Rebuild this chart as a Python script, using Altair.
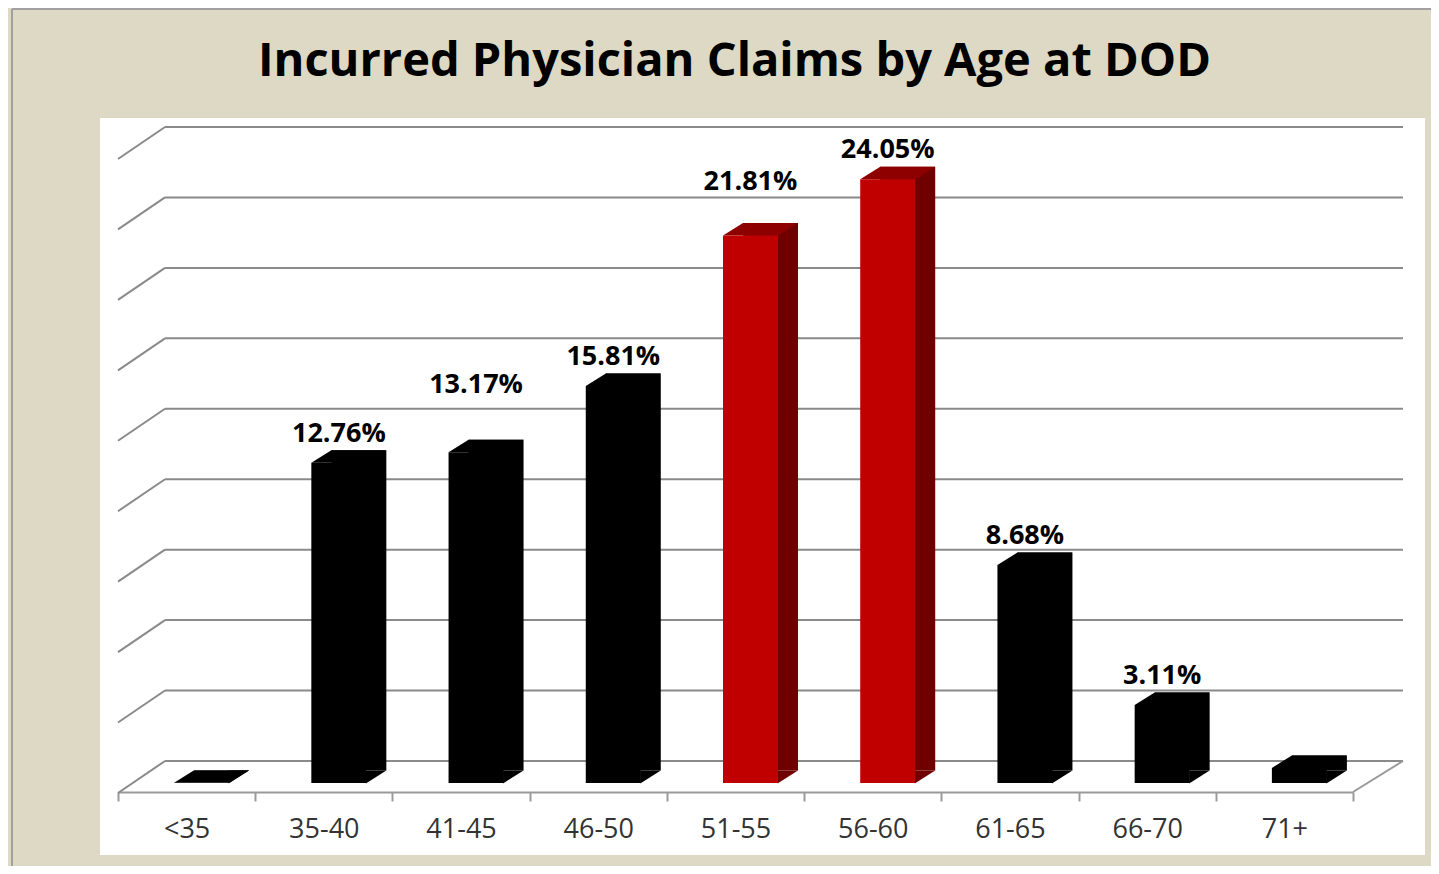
import altair as alt
import pandas as pd

# ---- data ----
categories = ["<35", "35-40", "41-45", "46-50", "51-55", "56-60", "61-65", "66-70", "71+"]
values = [0.01, 12.76, 13.17, 15.81, 21.81, 24.05, 8.68, 3.11, 0.6]
labels = ["", "12.76%", "13.17%", "15.81%", "21.81%", "24.05%", "8.68%", "3.11%", ""]
groups = ["normal", "normal", "normal", "normal", "peak", "peak", "normal", "normal", "normal"]
wall_ticks = [0, 3, 6, 9, 12, 15, 18, 21, 24, 27]

df = pd.DataFrame({"age": categories, "share": values, "label": labels,
                   "group": groups, "base": [0] * len(categories)})
grid_df = pd.DataFrame({"g": wall_ticks})
one_df = pd.DataFrame({"k": [0]})

# ---- styling ----
W, H = 1325, 737
BAR_W = 55
SHIFT = 15
DX, DY = 20, 12.5
GRID = "#8a8a8a"
FONT = "Open Sans"

front_colors = ["#000000", "#C00000"]
top_colors = ["#000000", "#8E0000"]
side_colors = ["#000000", "#700000"]

yscale = alt.Scale(domain=[-2.87, 26.49], nice=False, zero=False)
wallscale = alt.Scale(domain=[-4.004, 27.383], nice=False, zero=False)

xenc = alt.X("age:N", sort=categories,
             scale=alt.Scale(range=[18, 1253], paddingInner=0, paddingOuter=0),
             axis=alt.Axis(title=None, labelAngle=0, tickBand="extent", offset=-63,
                           domainColor="#9a9a9a", domainWidth=2, tickColor="#9a9a9a",
                           tickWidth=2, tickSize=9, labelFont=FONT, labelFontSize=27,
                           labelColor="#333333", labelBaseline="alphabetic",
                           labelPadding=36, grid=False))
yenc = alt.Y("share:Q", scale=yscale, axis=None)


def col(rng):
    return alt.Color("group:N", scale=alt.Scale(domain=["normal", "peak"], range=rng), legend=None)


# ---- back wall / floor ----
wall_y = alt.Y("g:Q", scale=wallscale, axis=None)
hgrid = alt.Chart(grid_df).mark_rule(color=GRID, strokeWidth=2).encode(
    x=alt.value(65), x2=alt.value(1303), y=wall_y)
diag = alt.Chart(grid_df).mark_rule(color=GRID, strokeWidth=2, yOffset=32).encode(
    x=alt.value(18), x2=alt.value(65), y=wall_y, y2=alt.Y2("g:Q"))
floor_right = alt.Chart(grid_df).transform_filter("datum.g == 0").mark_rule(
    color="#9a9a9a", strokeWidth=2, yOffset=31).encode(
    x=alt.value(1253), x2=alt.value(1303), y=wall_y, y2=alt.Y2("g:Q"))
wall = alt.layer(hgrid, diag, floor_right)

# ---- 3D bars ----
shadow = alt.Chart(df).mark_bar(width=BAR_W, xOffset=SHIFT + DX, yOffset=-DY, y2Offset=-DY).encode(
    x=xenc, y=yenc, color=col(side_colors))
top = alt.Chart(df).mark_point(
    filled=True, opacity=1, size=4, xOffset=SHIFT, strokeWidth=0,
    shape="M -27.5 0 L 27.5 0 L 47.5 -12.5 L -7.5 -12.5 Z").encode(
    x=xenc, y=yenc, color=col(top_colors))
corner = alt.Chart(df).mark_point(
    filled=True, opacity=1, size=4, xOffset=SHIFT, strokeWidth=0,
    shape="M 27 0.5 L 47.5 -12.5 L 27 -12.5 Z").encode(
    x=xenc, y=alt.Y("base:Q", scale=yscale, axis=None), color=col(side_colors))
front = alt.Chart(df).mark_bar(width=BAR_W, xOffset=SHIFT).encode(
    x=xenc, y=yenc, color=col(front_colors))


def label_layer(flt, dy):
    return alt.Chart(df).transform_filter(flt).mark_text(
        font=FONT, fontWeight="bold", fontSize=27, dy=dy, baseline="alphabetic",
        xOffset=SHIFT, color="#000000").encode(x=xenc, y=yenc, text="label:N")


# Excel lifted two of the labels higher above their bars
text_std = label_layer("datum.age != '41-45' && datum.age != '51-55'", -21)
text_a = label_layer("datum.age == '41-45'", -59)
text_b = label_layer("datum.age == '51-55'", -45)

bars = alt.layer(shadow, top, corner, front, text_std, text_a, text_b).resolve_scale(color="independent")

# ---- outer frame ----
border_l = alt.Chart(one_df).mark_rule(color="#a0a0a0", strokeWidth=2).encode(
    x=alt.value(-88), y=alt.value(-109), y2=alt.value(H + 11))
border_t = alt.Chart(one_df).mark_rule(color="#a0a0a0", strokeWidth=2).encode(
    x=alt.value(-88), x2=alt.value(W + 6), y=alt.value(-109))

chart = alt.layer(border_l, border_t, wall, bars).resolve_scale(y="independent").properties(
    width=W, height=H,
    title=alt.TitleParams("Incurred Physician Claims by Age at DOD", font=FONT, fontSize=47,
                          fontWeight="bold", color="#000000", anchor="middle", dx=-28,
                          frame="group", baseline="alphabetic", offset=-115),
    autosize=alt.AutoSizeParams(type="none"),
    padding={"left": 92, "top": 110, "right": 6, "bottom": 11},
).configure(background="#DDD9C4").configure_view(fill="white", strokeWidth=0)

chart.save("out.html", embed_options={"renderer": "svg", "actions": False})
